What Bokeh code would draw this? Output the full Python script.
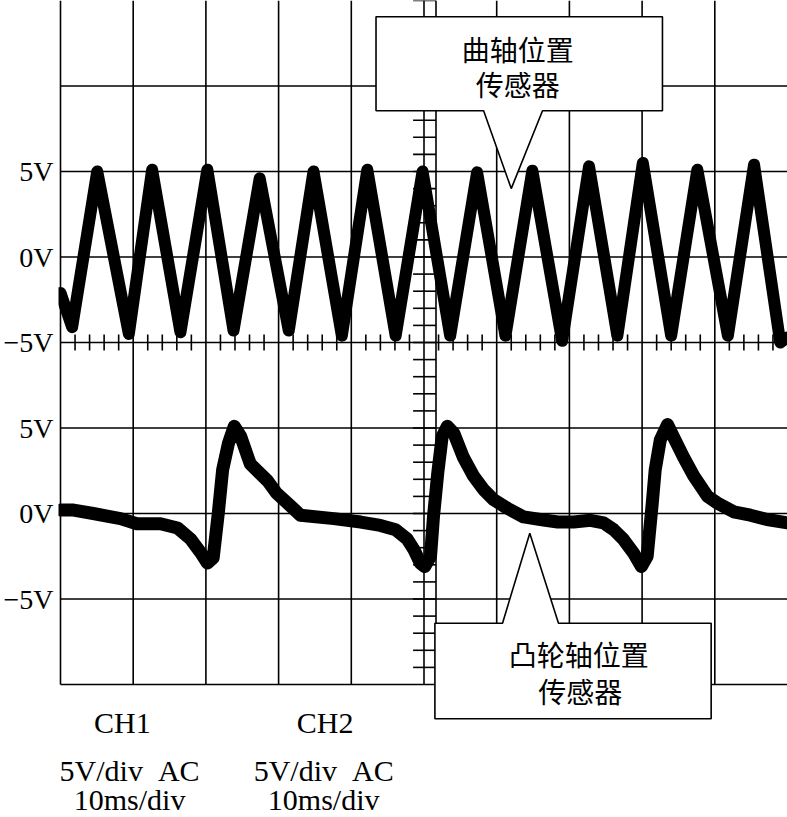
import numpy as np
from bokeh.plotting import figure
from bokeh.models import Range1d, FixedTicker, PolyAnnotation, Label
from bokeh.embed import file_html
from bokeh.resources import INLINE

# ---------------- data ----------------
# CH1: crankshaft position sensor (time in ms, voltage in V)
ch1_time_ms = [0, 1.6, 5.05, 9.4, 12.6, 16.5, 20.2, 23.8, 27.4, 31.4, 34.8, 38.7,
               42.2, 46.1, 49.8, 53.6, 57.3, 61.2, 64.9, 69.0, 72.7, 76.6, 80.1,
               84.0, 87.6, 91.8, 95.4, 99.0, 100]
ch1_volts = [-2.1, -4.1, 5.0, -4.5, 5.1, -4.4, 5.1, -4.3, 4.6, -4.3, 5.0, -4.6,
             5.1, -4.6, 5.0, -4.6, 4.95, -4.6, 5.05, -4.9, 5.3, -4.6, 5.5,
             -4.6, 5.1, -4.6, 5.4, -5.0, -4.7]

# CH2: camshaft position sensor (time in ms, voltage in V)
ch2_time_ms = [0, 1.8, 4.5, 8.25, 10.5, 13.75, 16.1, 17.9, 19.3, 20.2, 21.0, 21.7,
               22.3, 23.1, 23.9, 24.8, 26.1, 28.5, 29.7, 32.0, 33.0, 37.6, 41.3,
               44.0, 46.1, 47.7, 48.6, 49.5, 50.1, 50.9, 51.3, 51.9, 52.5, 53.2,
               54.1, 55.4, 56.8, 58.2, 59.6, 61.5, 63.7, 66.0, 68.4, 70.6, 72.9,
               74.7, 76.1, 77.4, 78.8, 79.9, 80.7, 81.4, 81.8, 82.5, 83.5, 84.3,
               85.7, 87.1, 89.0, 90.4, 92.6, 94.9, 97.2, 100]
ch2_volts = [0.2, 0.2, 0.0, -0.3, -0.6, -0.6, -0.85, -1.5, -2.3, -2.9, -2.6, 0.0,
             2.55, 4.1, 5.1, 4.5, 2.9, 1.9, 1.2, 0.3, -0.1, -0.3, -0.5,
             -0.7, -0.95, -1.5, -2.1, -2.9, -3.1, -2.5, -0.2, 2.4, 4.5, 5.1,
             4.7, 3.3, 2.2, 1.4, 0.8, 0.3, -0.2, -0.35, -0.5, -0.5, -0.4,
             -0.55, -0.95, -1.5, -2.3, -3.1, -2.5, 0.6, 2.55, 4.3, 5.2, 4.5,
             3.3, 2.2, 1.0, 0.6, 0.1, -0.1, -0.35, -0.55]

# screen: 10 horizontal divisions x 8 vertical divisions
time_per_div_ms = 10
volts_per_div = 5
ch1_zero_div = 5          # CH1 0 V sits 5 divisions above the bottom
ch2_zero_div = 2          # CH2 0 V sits 2 divisions above the bottom

# tick labels on the left (division position -> text)
y_tick_divs = [6, 5, 4, 3, 2, 1]
y_tick_labels = ["5V", "0V", "\u22125V", "5V", "0V", "\u22125V"]

channel_names = ["CH1", "CH2"]
channel_scales = ["5V/div\u00a0\u00a0AC", "5V/div\u00a0\u00a0AC"]
channel_timebases = ["10ms/div", "10ms/div"]
crank_callout_lines = ["曲轴位置", "传感器"]
cam_callout_lines = ["凸轮轴位置", "传感器"]

# ---------------- layout / style ----------------
W, H = 787, 817
SCREEN_LEFT_PX = 60       # left edge of graticule
SCREEN_BOTTOM_PX = 684    # bottom edge of graticule (from top)
PX_PER_DIV_Y = 85.5
PX_PER_MS = 7.27
FRAME_LEFT = 58

x_start = -(SCREEN_LEFT_PX - FRAME_LEFT) / PX_PER_MS
x_end = x_start + (W - FRAME_LEFT) / PX_PER_MS
y_top = SCREEN_BOTTOM_PX / PX_PER_DIV_Y
y_bottom = -(H - SCREEN_BOTTOM_PX) / PX_PER_DIV_Y

SERIF = "Liberation Serif"
CJK = "Noto Sans CJK SC"
GRID_W = 1.6

p = figure(width=W, height=H, x_range=Range1d(x_start, x_end),
           y_range=Range1d(y_bottom, y_top),
           output_backend="svg", toolbar_location=None, x_axis_location=None,
           min_border_left=FRAME_LEFT, min_border_right=0,
           min_border_top=0, min_border_bottom=0,
           background_fill_color="white", border_fill_color="white",
           outline_line_color=None)
p.xgrid.visible = False
p.ygrid.visible = False

p.extra_y_ranges = {
    "ch1": Range1d((y_bottom - ch1_zero_div) * volts_per_div, (y_top - ch1_zero_div) * volts_per_div),
    "ch2": Range1d((y_bottom - ch2_zero_div) * volts_per_div, (y_top - ch2_zero_div) * volts_per_div),
}

# left axis with voltage labels
yax = p.yaxis[0]
yax.ticker = FixedTicker(ticks=y_tick_divs)
yax.major_label_overrides = {d: t for d, t in zip(y_tick_divs, y_tick_labels)}
yax.major_tick_in = 0
yax.major_tick_out = 0
yax.minor_tick_in = 0
yax.minor_tick_out = 0
yax.major_label_standoff = 5
yax.major_label_text_font = SERIF
yax.major_label_text_font_size = "28px"
yax.major_label_text_color = "black"
yax.axis_line_color = None

# graticule (10 x 8 divisions)
n_x_div, n_y_div = 10, 8
vx = [k * time_per_div_ms for k in range(0, n_x_div)]
p.segment(x0=vx, x1=vx, y0=0, y1=n_y_div, line_color="black", line_width=GRID_W)
hy = list(range(0, n_y_div))
p.segment(x0=0, x1=n_x_div * time_per_div_ms, y0=hy, y1=hy,
          line_color="black", line_width=GRID_W)

# centre rulers (graticule minor ticks)
center_t = 5 * time_per_div_ms
center_div = 4
minor_t = [t for t in np.arange(0, 100.01, 2.0) if abs(t % 10) > 1e-6]
p.segment(x0=minor_t, x1=minor_t, y0=center_div - 0.094, y1=center_div + 0.094,
          line_color="black", line_width=GRID_W)
ruler_right = center_t + 1.65
minor_d = list(np.arange(0.2, 8.01, 0.2))
p.segment(x0=center_t - 1.5, x1=ruler_right, y0=minor_d, y1=minor_d,
          line_color="black", line_width=GRID_W)
p.segment(x0=[ruler_right], x1=[ruler_right], y0=[0], y1=[n_y_div],
          line_color="black", line_width=GRID_W)

# traces
p.line(ch1_time_ms, ch1_volts, y_range_name="ch1", line_color="black",
       line_width=12, line_join="round", line_cap="round")
p.line(ch2_time_ms, ch2_volts, y_range_name="ch2", line_color="black",
       line_width=13, line_join="round", line_cap="round")

# callouts
crank_xs = [43.4, 82.8, 82.8, 66.3, 62.0, 58.2, 43.4]
crank_ys = [7.81, 7.81, 6.71, 6.71, 5.80, 6.71, 6.71]
cam_xs = [51.5, 60.8, 64.55, 68.5, 89.5, 89.5, 51.5]
cam_ys = [0.717, 0.717, 1.77, 0.717, 0.717, -0.40, -0.40]
for xs, ys in ((crank_xs, crank_ys), (cam_xs, cam_ys)):
    p.add_layout(PolyAnnotation(xs=xs, ys=ys, fill_color="white", fill_alpha=1,
                                line_color="black", line_alpha=1, line_width=GRID_W))

for txt, (x, y) in zip(crank_callout_lines, [(62.9, 7.435), (62.9, 7.018)]):
    p.add_layout(Label(x=x, y=y, text=txt, text_align="center", text_baseline="middle",
                       text_font=CJK, text_font_size="28px", text_color="black"))
for txt, (x, y) in zip(cam_callout_lines, [(71.3, 0.351), (71.5, -0.076)]):
    p.add_layout(Label(x=x, y=y, text=txt, text_align="center", text_baseline="middle",
                       text_font=CJK, text_font_size="28px", text_color="black"))

# channel info below the screen
name_x = [8.5, 36.4]
info_x = [9.5, 36.2]
for i in range(2):
    p.add_layout(Label(x=name_x[i], y=-0.444, text=channel_names[i], text_align="center",
                       text_baseline="middle", text_font=SERIF,
                       text_font_size="30px", text_color="black"))
    p.add_layout(Label(x=info_x[i], y=-1.0, text=channel_scales[i], text_align="center",
                       text_baseline="middle", text_font=SERIF,
                       text_font_size="30px", text_color="black"))
    p.add_layout(Label(x=info_x[i], y=-1.35, text=channel_timebases[i], text_align="center",
                       text_baseline="middle", text_font=SERIF,
                       text_font_size="30px", text_color="black"))

open("out.html", "w").write(file_html(p, INLINE))
